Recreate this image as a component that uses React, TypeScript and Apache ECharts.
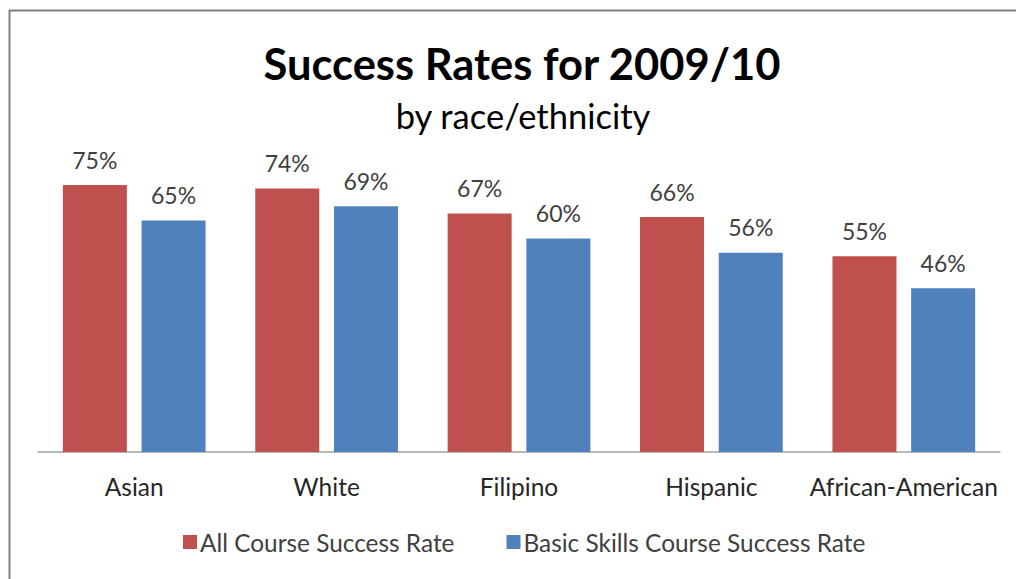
import React, { useEffect, useRef } from "react";
import * as echarts from "echarts";

const categories = ["Asian", "White", "Filipino", "Hispanic", "African-American"];
const allCourse = [75, 74, 67, 66, 55];
const basicSkills = [65, 69, 60, 56, 46];
const seriesNames = ["All Course Success Rate", "Basic Skills Course Success Rate"];
const FONT = "Lato, 'Noto Sans', sans-serif";

export default function App() {
  const ref = useRef<HTMLDivElement>(null);
  useEffect(() => {
    document.body.style.margin = "0";
    document.body.style.overflow = "hidden";
    document.documentElement.style.overflow = "hidden";
    const chart = echarts.init(ref.current!, undefined, { renderer: "svg" });
    const label = {
      show: true,
      position: "top",
      distance: 14,
      formatter: (p: any) => p.value + "%",
      color: "#404040",
      fontSize: 23,
      fontFamily: FONT,
    };
    chart.setOption({
      animation: false,
      backgroundColor: "#ffffff",
      title: [
        {
          text: "Success Rates for 2009/10",
          left: 517,
          top: 36,
          textAlign: "center",
          textStyle: { fontSize: 43.5, fontWeight: "bold", color: "#000", fontFamily: FONT },
        },
        {
          text: "by race/ethnicity",
          left: 518,
          top: 93,
          textAlign: "center",
          textStyle: { fontSize: 34.5, fontWeight: "normal", color: "#000", fontFamily: FONT },
        },
      ],
      legend: {
        bottom: 20,
        left: 178,
        itemWidth: 14,
        itemHeight: 14,
        itemGap: 52,
        icon: "rect",
        textStyle: { fontSize: 24.4, color: "#404040", fontFamily: FONT, padding: [0, 0, 0, -2] },
        data: seriesNames,
      },
      grid: { left: 38, right: 16, top: 96, bottom: 127, containLabel: false },
      xAxis: {
        type: "category",
        data: categories,
        axisLine: { lineStyle: { color: "#A0A0A0", width: 1.5 } },
        axisTick: { show: false },
        axisLabel: { interval: 0, fontSize: 24.5, color: "#262626", fontFamily: FONT, margin: 22 },
      },
      yAxis: {
        type: "value",
        min: 0,
        max: 100,
        show: false,
        splitLine: { show: false },
      },
      series: [
        {
          name: seriesNames[0],
          type: "bar",
          data: allCourse,
          barWidth: 64,
          barGap: "23%",
          itemStyle: { color: "#C0504D" },
          label,
        },
        {
          name: seriesNames[1],
          type: "bar",
          data: basicSkills,
          barWidth: 64,
          barGap: "23%",
          itemStyle: { color: "#4F81BD" },
          label,
        },
      ],
      graphic: [
        {
          type: "line",
          shape: { x1: 9, y1: 10.5, x2: 1016, y2: 10.5 },
          style: { stroke: "#808080", lineWidth: 2 },
          silent: true,
        },
        {
          type: "line",
          shape: { x1: 9.5, y1: 10, x2: 9.5, y2: 579 },
          style: { stroke: "#808080", lineWidth: 2 },
          silent: true,
        },
      ],
    });
    return () => chart.dispose();
  }, []);
  return (
    <div
      ref={ref}
      style={{ position: "fixed", left: 0, top: 0, width: 1016, height: 579 }}
    />
  );
}
